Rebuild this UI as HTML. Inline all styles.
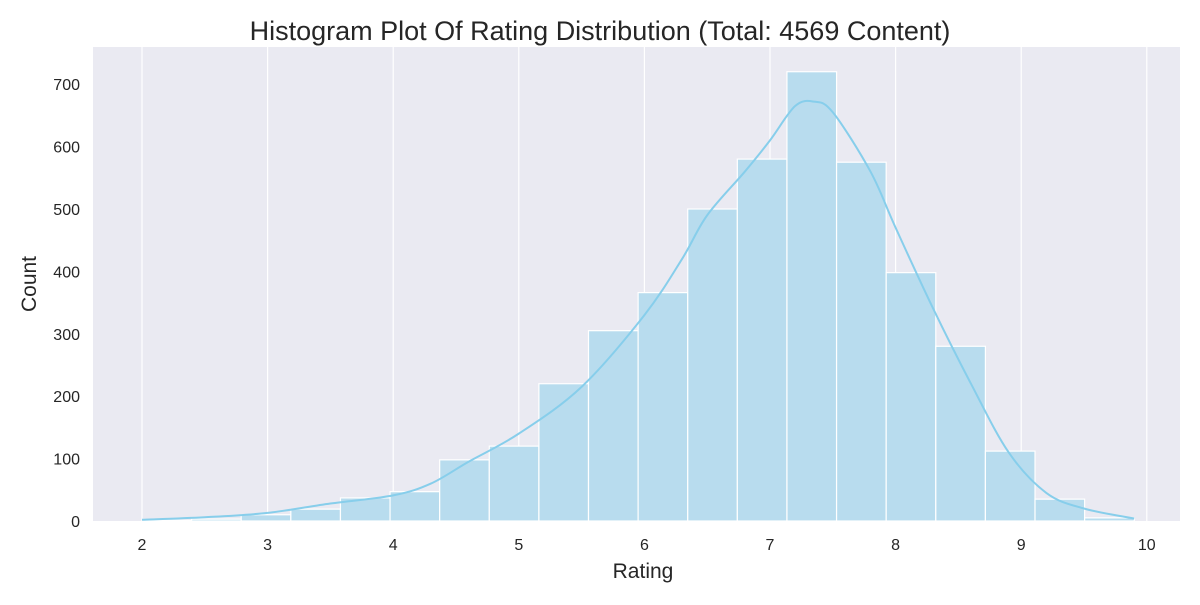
<!DOCTYPE html>
<html><head><meta charset="utf-8"><style>
body{margin:0;background:#fff;font-family:"Liberation Sans",sans-serif}
svg text{font-family:"Liberation Sans",sans-serif;fill:#262626}
</style></head><body>
<svg width="1200" height="600">
<rect x="93" y="47" width="1087" height="474" fill="#eaeaf2"/>
<g id="grid"></g><g id="bars"></g><g id="kde"></g><g id="xt"></g><g id="yt"></g>
<text x="600" y="40" font-size="27" text-anchor="middle">Histogram Plot Of Rating Distribution (Total: 4569 Content)</text>
<text x="643" y="578" font-size="21" text-anchor="middle">Rating</text>
<text transform="translate(36,284) rotate(-90)" font-size="21" text-anchor="middle">Count</text>
</svg>
<script>
const binStart = 2.0;
const binWidth = 0.395;
const counts = [1,3,10,19,37,47,98,120,220,305,366,500,580,720,575,398,280,112,35,5];
const kdeX = [2,2.5,3,3.5,4,4.3,4.6,5,5.5,6,6.3,6.5,6.8,7,7.2,7.35,7.5,7.8,8,8.3,8.6,8.9,9.2,9.5,9.9];
const kdeY = [2,6,13,28,41,60,95,140,215,330,420,490,560,610,665,672,655,560,470,340,220,110,45,20,4];
const xTicks = [2,3,4,5,6,7,8,9,10];
const yTicks = [0,100,200,300,400,500,600,700];
const NS="http://www.w3.org/2000/svg";
const X=v=>142+(v-2)*125.6;
const Y=v=>521-v*0.624;
function mk(t,a,p){const e=document.createElementNS(NS,t);for(const k in a)e.setAttribute(k,a[k]);p.appendChild(e);return e;}
const g=document.getElementById('grid');
xTicks.forEach(t=>{const l=mk('line',{x1:X(t),x2:X(t),y1:47,y2:521,stroke:'#fff','stroke-width':1.2},g);

});
const b=document.getElementById('bars');
counts.forEach((c,i)=>{const x0=X(binStart+i*binWidth),x1=X(binStart+(i+1)*binWidth);
const r=mk('rect',{x:x0,y:Y(c),width:x1-x0,height:Y(0)-Y(c),fill:'#b8dcee',stroke:'#fff','stroke-width':1.2},b);

});
const k=document.getElementById('kde');
const pts=kdeX.map((x,i)=>[X(x),Y(kdeY[i])]);
let d='M'+pts[0].join(',');
for(let i=0;i<pts.length-1;i++){const p0=pts[i-1]||pts[i],p1=pts[i],p2=pts[i+1],p3=pts[i+2]||p2;
d+=` C${p1[0]+(p2[0]-p0[0])/6},${p1[1]+(p2[1]-p0[1])/6} ${p2[0]-(p3[0]-p1[0])/6},${p2[1]-(p3[1]-p1[1])/6} ${p2[0]},${p2[1]}`;}
const pl=mk('path',{d:d,fill:'none',stroke:'#87ceeb','stroke-width':2},k);


const xt=document.getElementById('xt');
xTicks.forEach(t=>{const e=mk('text',{x:X(t),y:550,'font-size':16,'text-anchor':'middle'},xt);e.textContent=t;

});
const yt=document.getElementById('yt');
yTicks.forEach(t=>{const e=mk('text',{x:80,y:Y(t)+6,'font-size':16,'text-anchor':'end'},yt);e.textContent=t;

});
</script>
</body></html>
